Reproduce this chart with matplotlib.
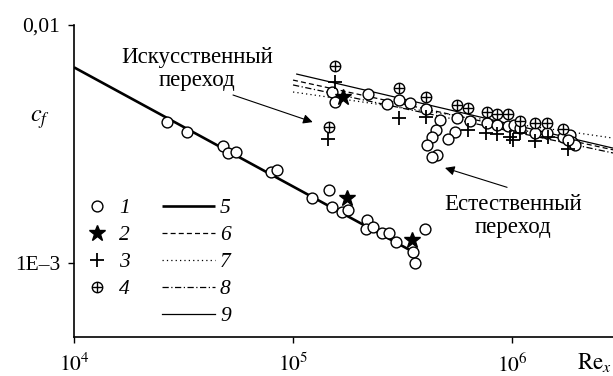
import matplotlib
matplotlib.use('Agg')
import matplotlib.pyplot as plt
from matplotlib.lines import Line2D

plt.rcParams['font.family'] = ['Liberation Serif', 'DejaVu Serif']
plt.rcParams['mathtext.fontset'] = 'stix'

FS = 15.5
FS_ANN = 16.5

# ---- data ----
# 1: open circles, laminar part
re1_lam = [2.66e4, 3.28e4, 4.79e4, 5.05e4, 5.50e4, 7.94e4, 8.46e4, 1.22e5, 1.46e5, 1.51e5,
           1.67e5, 1.78e5, 2.18e5, 2.15e5, 2.32e5, 2.55e5, 2.74e5, 2.95e5, 3.53e5, 3.61e5, 4.01e5]
cf1_lam = [3.91e-3, 3.55e-3, 3.10e-3, 2.90e-3, 2.92e-3, 2.41e-3, 2.46e-3, 1.87e-3, 2.03e-3, 1.72e-3,
           1.64e-3, 1.67e-3, 1.52e-3, 1.39e-3, 1.42e-3, 1.34e-3, 1.34e-3, 1.23e-3, 1.11e-3, 1.00e-3, 1.39e-3]
# 1: open circles, transitional / turbulent part
re1_turb = [1.51e5, 1.56e5, 2.20e5, 2.69e5, 3.05e5, 3.42e5, 4.05e5, 4.69e5, 4.50e5, 4.31e5,
            4.09e5, 4.55e5, 4.31e5, 5.61e5, 5.49e5, 5.11e5, 6.43e5, 7.69e5, 8.55e5, 9.60e5,
            1.02e6, 1.09e6, 1.27e6, 1.45e6, 1.71e6, 1.84e6, 1.88e6, 1.94e6, 1.80e6]
cf1_turb = [5.23e-3, 4.75e-3, 5.13e-3, 4.66e-3, 4.84e-3, 4.70e-3, 4.44e-3, 3.99e-3, 3.62e-3, 3.38e-3,
            3.13e-3, 2.85e-3, 2.79e-3, 4.06e-3, 3.55e-3, 3.32e-3, 3.95e-3, 3.87e-3, 3.80e-3, 3.77e-3,
            3.80e-3, 3.69e-3, 3.52e-3, 3.52e-3, 3.38e-3, 3.45e-3, 3.22e-3, 3.13e-3, 3.29e-3]
# 2: stars
re2 = [1.77e5, 3.49e5, 1.69e5]
cf2 = [1.87e-3, 1.25e-3, 4.98e-3]
# 3: plus
re3 = [1.56e5, 1.44e5, 3.05e5, 4.05e5, 6.30e5, 7.60e5, 8.55e5, 9.80e5, 1.01e6, 1.09e6, 1.27e6, 1.46e6, 1.80e6]
cf3 = [5.76e-3, 3.32e-3, 4.06e-3, 4.10e-3, 3.62e-3, 3.52e-3, 3.48e-3, 3.38e-3, 3.29e-3, 3.52e-3, 3.26e-3, 3.38e-3, 3.01e-3]
# 4: circled plus
re4 = [1.56e5, 1.46e5, 3.05e5, 4.05e5, 5.61e5, 6.30e5, 7.69e5, 8.55e5, 9.60e5, 1.09e6, 1.27e6, 1.45e6, 1.71e6]
cf4 = [6.73e-3, 3.72e-3, 5.43e-3, 4.98e-3, 4.61e-3, 4.48e-3, 4.31e-3, 4.23e-3, 4.23e-3, 3.95e-3, 3.87e-3, 3.87e-3, 3.66e-3]

# 5: laminar correlation (thick)
re5 = [1.0e4, 3.5e5]
cf5 = [6.64e-3, 1.12e-3]
# 6-9: turbulent correlations
re6 = [1.0e5, 2.89e6]
cf6 = [5.87e-3, 2.99e-3]
re7 = [1.0e5, 2.89e6]
cf7 = [5.23e-3, 3.35e-3]
re8 = [1.0e5, 2.89e6]
cf8 = [5.60e-3, 2.90e-3]
re9 = [1.04e5, 2.89e6]
cf9 = [6.22e-3, 3.04e-3]

xticks = [1e4, 1e5, 1e6]
xticklabels = ['$10^4$', '$10^5$', '$10^6$']
yticks = [1e-3, 1e-2]
yticklabels = ['1E\u20133', '0,01']
legend_labels = ['1', '2', '3', '4', '5', '6', '7', '8', '9']

# ---- figure ----
W, H = 613, 376
fig = plt.figure(figsize=(W / 100, H / 100), dpi=100)
ax = fig.add_axes([74 / W, (H - 337) / H, (W - 74) / W, (337 - 25) / H])
ax.set_xscale('log')
ax.set_yscale('log')
ax.set_xlim(1e4, 2.89e6)
ax.set_ylim(4.89e-4, 1e-2)

k = 'black'
h5, = ax.plot(re5, cf5, color=k, lw=1.9, solid_capstyle='butt')
h6, = ax.plot(re6, cf6, color=k, lw=0.9, ls=(0, (4, 2.5)))
h7, = ax.plot(re7, cf7, color=k, lw=0.9, ls=(0, (1, 2.5)))
h8, = ax.plot(re8, cf8, color=k, lw=0.9, ls=(0, (5, 2, 1, 2)))
h9, = ax.plot(re9, cf9, color=k, lw=0.9)

mk_o = dict(marker='o', ls='none', ms=7.8, mfc='white', mec=k, mew=1.0)
ax.plot(re1_lam, cf1_lam, **mk_o)
ax.plot(re1_turb, cf1_turb, **mk_o)
ax.plot(re2, cf2, marker='*', ls='none', ms=12, mfc=k, mec=k)
ax.plot(re3, cf3, marker='+', ls='none', ms=10, mec=k, mew=1.3)
ax.plot(re4, cf4, marker='o', ls='none', ms=7.5, mfc='white', mec=k, mew=1.0)
ax.plot(re4, cf4, marker='+', ls='none', ms=7.5, mec=k, mew=1.0)

for s in ['top', 'right']:
    ax.spines[s].set_visible(False)
for s in ['left', 'bottom']:
    ax.spines[s].set_linewidth(1.2)
ax.set_xticks(xticks)
ax.set_xticklabels(xticklabels)
ax.set_yticks(yticks)
ax.set_yticklabels(yticklabels)
ax.minorticks_off()
ax.tick_params(direction='out', length=4, width=1.0, labelsize=FS, pad=6)
ax.tick_params(axis='x', pad=8)

# axis labels
fig.text(40 / W, 1 - 120 / H, '$c_f$', fontsize=FS + 2, ha='center', va='center')
fig.text(577 / W, 1 - 363 / H, r'$\mathrm{Re}_x$', fontsize=FS + 1, ha='left', va='center')

# annotations
ax.text(0.228, 0.859, 'Искусственный\nпереход', transform=ax.transAxes,
        fontsize=FS_ANN, ha='center', va='center', linespacing=1.1)
ax.annotate('', xy=(1.23e5, 3.91e-3), xytext=(5.32e4, 5.08e-3),
            arrowprops=dict(arrowstyle='-|>', lw=0.8, color=k, mutation_scale=14,
                            shrinkA=0, shrinkB=0))
ax.text(0.8145, 0.388, 'Естественный\nпереход', transform=ax.transAxes,
        fontsize=FS_ANN, ha='center', va='center', linespacing=1.1)
ax.annotate('', xy=(4.94e5, 2.51e-3), xytext=(9.49e5, 2.08e-3),
            arrowprops=dict(arrowstyle='-|>', lw=0.8, color=k, mutation_scale=14,
                            shrinkA=0, shrinkB=0))

# legends
hm1 = Line2D([], [], **mk_o)
hm2 = Line2D([], [], marker='*', ls='none', ms=12, mfc=k, mec=k)
hm3 = Line2D([], [], marker='+', ls='none', ms=10, mec=k, mew=1.3)
hm4a = Line2D([], [], marker='o', ls='none', ms=7.5, mfc='white', mec=k, mew=1.0)
hm4b = Line2D([], [], marker='+', ls='none', ms=7.5, mec=k, mew=1.0)
prop = {'style': 'italic', 'size': FS}
leg_top = 0.445
leg1 = ax.legend([hm1, hm2, hm3, (hm4a, hm4b)], legend_labels[:4], loc='upper left',
                 bbox_to_anchor=(0.0234, leg_top), frameon=False, prop=prop,
                 handlelength=1.0, handletextpad=0.5, labelspacing=0.32,
                 borderpad=0, borderaxespad=0)
ax.add_artist(leg1)
ax.legend([h5, h6, h7, h8, h9], legend_labels[4:], loc='upper left',
          bbox_to_anchor=(0.163, leg_top), frameon=False, prop=prop,
          handlelength=2.45, handletextpad=0.25, labelspacing=0.32,
          borderpad=0, borderaxespad=0)

fig.savefig('out.png', dpi=100)
